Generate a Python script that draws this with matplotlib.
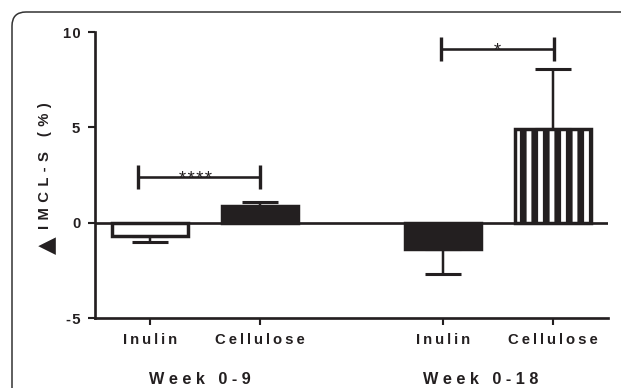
import matplotlib
matplotlib.use("Agg")
import matplotlib.pyplot as plt
from matplotlib.patches import FancyBboxPatch
from matplotlib.transforms import IdentityTransform, blended_transform_factory

DPI = 69
plt.rcParams['font.family'] = ['Liberation Sans', 'DejaVu Sans']
plt.rcParams['font.weight'] = 'bold'
plt.rcParams['hatch.linewidth'] = 7.0

# ---- data ----
categories = ["Inulin", "Cellulose", "Inulin", "Cellulose"]
groups = ["Week 0-9", "Week 0-18"]
means = [-0.72, 0.9, -1.37, 4.9]
err_low = [0.28, 0.0, 1.33, 0.0]
err_high = [0.0, 0.2, 0.0, 3.15]
positions = [0, 1, 2.66, 3.66]
yticks = [-5, 0, 5, 10]
sig_labels = ["****", "*"]
sig_x = [(-0.11, 1.0), (2.64, 3.67)]
sig_y = [2.37, 9.1]
sig_text_x = [0.41, 3.15]

INK = '#231f20'
H = 388.0

def spaced(s, sep='\u2009'):
    return sep.join(s)

fig = plt.figure(figsize=(621 / DPI, 388 / DPI), dpi=DPI)
ax = fig.add_axes([95 / 621, 1 - 318 / H, (608 - 95) / 621, (318 - 32) / H])

faces = ['white', INK, INK, 'white']
hatches = [None, None, None, '|']
for p, m, fc, h in zip(positions, means, faces, hatches):
    ax.bar(p, m, width=0.69, facecolor=fc, edgecolor=INK, linewidth=3.6,
           hatch=h, zorder=3)

ax.errorbar(positions, means, yerr=[err_low, err_high], fmt='none',
            ecolor=INK, elinewidth=2.6, capsize=18.5, capthick=3.2, zorder=2)

ax.axhline(0, color=INK, linewidth=2.8, zorder=4)

# significance brackets
for (x0, x1), yy, lab, tx in zip(sig_x, sig_y, sig_labels, sig_text_x):
    ax.plot([x0, x1], [yy, yy], color=INK, lw=2.7, solid_capstyle='butt')
    for xx in (x0, x1):
        ax.plot([xx, xx], [yy - 0.63, yy + 0.63], color=INK, lw=3.5,
                solid_capstyle='butt')
    ax.annotate(spaced(lab, '\u200a'), (tx, yy), xytext=(0, -6.5),
                textcoords='offset points', ha='center', va='baseline',
                fontsize=19, fontweight='normal', color=INK)

ax.set_xlim(-0.5, 4.16)
ax.set_ylim(-5, 10)
ax.set_yticks(yticks)
ax.set_yticklabels([spaced(str(t), '\u200a') for t in yticks])
ax.set_xticks(positions)
ax.set_xticklabels([spaced(c) for c in categories])

for s in ['top', 'right']:
    ax.spines[s].set_visible(False)
for s in ['left', 'bottom']:
    ax.spines[s].set_linewidth(2.8)
    ax.spines[s].set_color(INK)
ax.tick_params(direction='out', length=7.3, width=2.2, color=INK,
               labelsize=15.5, labelcolor=INK)
ax.tick_params(axis='x', pad=8)
ax.tick_params(axis='y', pad=8)

# y label: letters + large triangle
fig.text(45 / 621, 1 - 165.5 / H, spaced("IMCL-S (%)", ' \u200a'), rotation=90,
         ha='center', va='center', fontsize=15.5, fontweight='bold', color=INK)
fig.text(47.5 / 621, 1 - 245 / H, "▲", rotation=90, ha='center',
         va='center', fontsize=24, color=INK, family=['DejaVu Sans'])

trans = blended_transform_factory(ax.transData, fig.transFigure)
for gx, g in zip([0.45, 3.0], groups):
    ax.text(gx, 1 - 384.5 / H, spaced(g, ' '), transform=trans, ha='center',
            va='baseline', fontsize=17, fontweight='bold', color=INK)

# rounded frame
frame = FancyBboxPatch((12, -40), 700, 388 - 12 + 40,
                       boxstyle="round,pad=0,rounding_size=14",
                       transform=IdentityTransform(), facecolor='none',
                       edgecolor='#333333', linewidth=1.6)
fig.patches.append(frame)

fig.savefig("out.png", dpi=DPI)
